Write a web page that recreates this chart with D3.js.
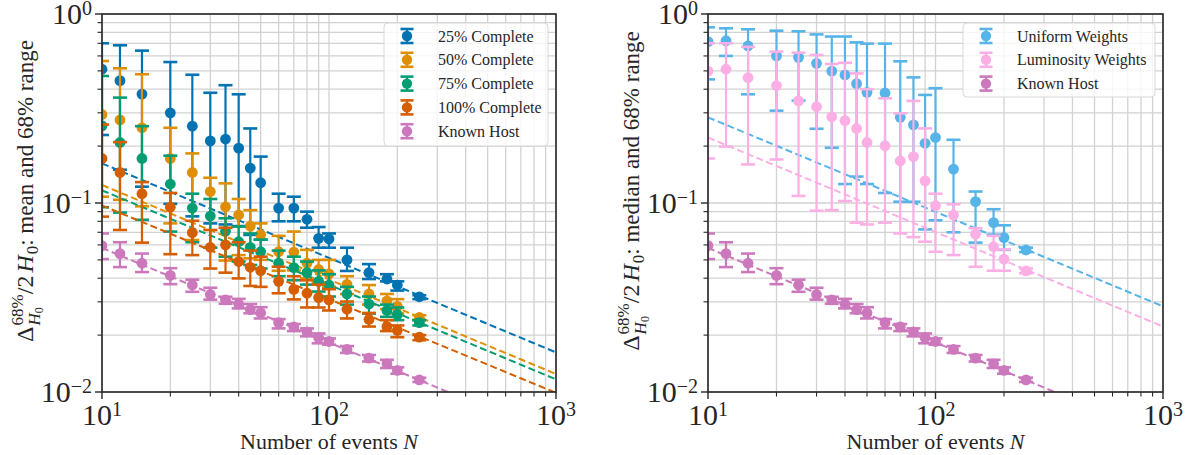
<!DOCTYPE html>
<html>
<head>
<meta charset="utf-8">
<script src="https://cdn.jsdelivr.net/npm/d3@7"></script>
<style>
  body { margin: 0; background: #fff; }
</style>
</head>
<body>
<div id="chart"></div>
<script>
// number of events on the x axis
const events = [10, 12, 15, 20, 25, 30, 35, 40, 45, 50, 60, 70, 80, 90, 100, 120, 150, 180, 200, 250];

// left panel: mean and 68% range
const c25Mid = [0.51, 0.444, 0.377, 0.30, 0.255, 0.213, 0.218, 0.195, 0.153, 0.128, 0.094, 0.094, 0.082, 0.065, 0.0645, 0.050, 0.0428, 0.0396, 0.0368, 0.0319];
const c25Lo  = [0.229, 0.15, 0.122, 0.099, 0.085, 0.078, 0.077, 0.0755, 0.0678, 0.064, 0.080, 0.080, 0.074, 0.058, 0.058, 0.0437, 0.0396, 0.0385, 0.0344, 0.031];
const c25Hi  = [0.70, 0.683, 0.64, 0.557, 0.477, 0.383, 0.42, 0.376, 0.248, 0.176, 0.112, 0.108, 0.090, 0.0746, 0.069, 0.058, 0.0475, 0.042, 0.0385, 0.0325];

const c50Mid = [0.294, 0.275, 0.25, 0.172, 0.145, 0.115, 0.0955, 0.0864, 0.0755, 0.068, 0.0552, 0.055, 0.048, 0.0445, 0.0422, 0.0371, 0.033, 0.0303, 0.0284, 0.0248];
const c50Lo  = [0.108, 0.104, 0.096, 0.078, 0.0637, 0.058, 0.0496, 0.053, 0.051, 0.05, 0.0438, 0.044, 0.040, 0.038, 0.036, 0.033, 0.029, 0.0275, 0.026, 0.024];
const c50Hi  = [0.564, 0.516, 0.48, 0.25, 0.183, 0.136, 0.127, 0.105, 0.0917, 0.078, 0.067, 0.0706, 0.0565, 0.05, 0.05, 0.041, 0.0368, 0.033, 0.031, 0.0255];

const c75Mid = [0.256, 0.209, 0.172, 0.126, 0.094, 0.0853, 0.0709, 0.0624, 0.0583, 0.0552, 0.048, 0.0455, 0.0428, 0.0385, 0.0368, 0.033, 0.0292, 0.027, 0.0257, 0.0233];
const c75Lo  = [0.095, 0.089, 0.0815, 0.0706, 0.062, 0.058, 0.052, 0.049, 0.047, 0.045, 0.041, 0.039, 0.037, 0.034, 0.032, 0.029, 0.026, 0.025, 0.024, 0.0225];
const c75Hi  = [0.47, 0.361, 0.255, 0.178, 0.112, 0.105, 0.083, 0.075, 0.069, 0.064, 0.056, 0.052, 0.049, 0.044, 0.042, 0.036, 0.032, 0.029, 0.028, 0.024];

const c100Mid = [0.172, 0.145, 0.112, 0.095, 0.0697, 0.0583, 0.06, 0.049, 0.0457, 0.0438, 0.0385, 0.0349, 0.0333, 0.0316, 0.0307, 0.0274, 0.0242, 0.0222, 0.0212, 0.0195];
const c100Lo  = [0.0847, 0.072, 0.0617, 0.0536, 0.053, 0.045, 0.0428, 0.0399, 0.0364, 0.036, 0.0333, 0.0309, 0.028, 0.028, 0.027, 0.0245, 0.0222, 0.021, 0.0195, 0.0188];
const c100Hi  = [0.26, 0.21, 0.129, 0.113, 0.0805, 0.072, 0.074, 0.062, 0.056, 0.052, 0.046, 0.041, 0.039, 0.037, 0.035, 0.0301, 0.0262, 0.024, 0.0225, 0.020];

// known host (same in both panels)
const hostMid = [0.0594, 0.054, 0.048, 0.0414, 0.0368, 0.0328, 0.0307, 0.0292, 0.0273, 0.0262, 0.0233, 0.0221, 0.0208, 0.0194, 0.0185, 0.0168, 0.0151, 0.0141, 0.013, 0.0116];
const hostLo  = [0.0505, 0.0458, 0.0431, 0.0372, 0.0339, 0.0308, 0.0293, 0.0277, 0.0261, 0.0245, 0.0217, 0.021, 0.0197, 0.0181, 0.0178, 0.0161, 0.0145, 0.0134, 0.0125, 0.0113];
const hostHi  = [0.069, 0.062, 0.054, 0.0452, 0.0393, 0.0356, 0.0319, 0.0311, 0.0292, 0.0281, 0.0243, 0.0229, 0.0217, 0.0204, 0.0192, 0.0175, 0.0157, 0.0148, 0.0135, 0.0119];

// right panel: median and 68% range
const uniMid = [0.714, 0.722, 0.677, 0.60, 0.59, 0.548, 0.499, 0.476, 0.428, 0.385, 0.382, 0.284, 0.259, 0.207, 0.222, 0.151, 0.1017, 0.0787, 0.0656, 0.0564];
const uniLo  = [0.451, 0.60, 0.376, 0.308, 0.348, 0.247, 0.196, 0.126, 0.138, 0.126, 0.113, 0.1016, 0.1016, 0.0725, 0.081, 0.070, 0.0617, 0.068, 0.0565, 0.055];
const uniHi  = [0.85, 0.84, 0.83, 0.816, 0.81, 0.78, 0.76, 0.76, 0.708, 0.697, 0.697, 0.562, 0.462, 0.373, 0.405, 0.216, 0.115, 0.0927, 0.0762, 0.058];

const lumMid = [0.499, 0.51, 0.46, 0.418, 0.347, 0.323, 0.286, 0.273, 0.248, 0.209, 0.201, 0.167, 0.176, 0.131, 0.0968, 0.0864, 0.0683, 0.0587, 0.0505, 0.0437];
const lumLo  = [0.172, 0.199, 0.16, 0.17, 0.109, 0.091, 0.0917, 0.1024, 0.0787, 0.077, 0.0787, 0.069, 0.066, 0.0624, 0.0552, 0.053, 0.046, 0.0438, 0.0438, 0.0425];
const lumHi  = [0.70, 0.70, 0.67, 0.632, 0.624, 0.607, 0.544, 0.552, 0.485, 0.40, 0.358, 0.298, 0.347, 0.248, 0.112, 0.0985, 0.0735, 0.067, 0.0568, 0.045];

// dashed N^-1/2 fits, values at N = 10 and N = 1000
const fitN = [10, 1000];
const fit25 = [0.162, 0.0162];
const fit50 = [0.1245, 0.01245];
const fit75 = [0.1167, 0.01167];
const fit100 = [0.097, 0.0099];
const fitHost = [0.0578, 0.00578];
const fitUni = [0.284, 0.0284];
const fitLum = [0.222, 0.0222];

const leftSeries = [
  {label: '25% Complete', color: '#0173b2', mid: c25Mid, lo: c25Lo, hi: c25Hi, fit: fit25},
  {label: '50% Complete', color: '#de8f05', mid: c50Mid, lo: c50Lo, hi: c50Hi, fit: fit50},
  {label: '75% Complete', color: '#029e73', mid: c75Mid, lo: c75Lo, hi: c75Hi, fit: fit75},
  {label: '100% Complete', color: '#d55e00', mid: c100Mid, lo: c100Lo, hi: c100Hi, fit: fit100},
  {label: 'Known Host', color: '#cc78bc', mid: hostMid, lo: hostLo, hi: hostHi, fit: fitHost}
];
const rightSeries = [
  {label: 'Uniform Weights', color: '#56b4e9', mid: uniMid, lo: uniLo, hi: uniHi, fit: fitUni},
  {label: 'Luminosity Weights', color: '#fbafe4', mid: lumMid, lo: lumLo, hi: lumHi, fit: fitLum},
  {label: 'Known Host', color: '#cc78bc', mid: hostMid, lo: hostLo, hi: hostHi, fit: fitHost}
];

const W = 1189, H = 455;
const FONT = '"Liberation Serif", "Times New Roman", serif';
const INK = '#262626';
const svg = d3.select('#chart').append('svg')
  .attr('width', W).attr('height', H)
  .attr('font-family', FONT).attr('fill', INK);

const plotTop = 14, plotBottom = 392;

// place text pieces one after another (for math-like labels)
function richText(g, pieces) {
  let cursor = 0, mark = 0, maxX = 0;
  pieces.forEach(p => {
    if (p.reset) cursor = mark;
    if (p.jump) cursor = maxX;
    if (p.mark) mark = cursor;
    const el = g.append('text')
      .attr('x', cursor)
      .attr('y', p.dy || 0)
      .attr('font-family', FONT).attr('fill', INK)
      .attr('font-size', p.s)
      .attr('font-style', p.it ? 'italic' : 'normal')
      .text(p.t);
    cursor += el.node().getComputedTextLength() + (p.gap || 0);
    maxX = Math.max(maxX, cursor);
  });
  return maxX;
}

function drawPanel(x0, x1, series, stat, legendBox) {
  const x = d3.scaleLog().domain([10, 1000]).range([x0, x1]);
  const y = d3.scaleLog().domain([0.01, 1]).range([plotBottom, plotTop]);
  const g = svg.append('g');
  const clipId = 'clip' + x0;

  g.append('clipPath').attr('id', clipId)
    .append('rect').attr('x', x0).attr('y', plotTop).attr('width', x1 - x0).attr('height', plotBottom - plotTop);

  const xt = x.ticks();
  const yt = y.ticks();
  const isMajor = v => Math.abs(Math.log10(v) - Math.round(Math.log10(v))) < 1e-6;

  // grid
  g.append('g').selectAll('line').data(xt).join('line')
    .attr('x1', d => x(d)).attr('x2', d => x(d)).attr('y1', plotTop).attr('y2', plotBottom)
    .attr('stroke', '#d2d2d2').attr('stroke-width', 1.3);
  g.append('g').selectAll('line').data(yt).join('line')
    .attr('y1', d => y(d)).attr('y2', d => y(d)).attr('x1', x0).attr('x2', x1)
    .attr('stroke', '#d2d2d2').attr('stroke-width', 1.3);

  const plot = g.append('g').attr('clip-path', `url(#${clipId})`);
  series.forEach(s => {
    const sg = plot.append('g');
    const pts = events.map((n, i) => ({n, mid: s.mid[i], lo: s.lo[i], hi: s.hi[i]}));
    sg.selectAll('.bar').data(pts).join('line').attr('class', 'bar')
      .attr('x1', d => x(d.n)).attr('x2', d => x(d.n))
      .attr('y1', d => y(d.lo)).attr('y2', d => y(d.hi))
      .attr('stroke', s.color).attr('stroke-width', 2.2);
    ['lo', 'hi'].forEach(k => {
      sg.selectAll('.cap' + k).data(pts).join('line').attr('class', 'cap' + k)
        .attr('x1', d => x(d.n) - 7).attr('x2', d => x(d.n) + 7)
        .attr('y1', d => y(d[k])).attr('y2', d => y(d[k]))
        .attr('stroke', s.color).attr('stroke-width', 2.6);
    });
    sg.selectAll('circle').data(pts).join('circle')
      .attr('cx', d => x(d.n)).attr('cy', d => y(d.mid)).attr('r', 5.4)
      .attr('fill', s.color);
    const fitPts = fitN.map((n, i) => [n, s.fit[i]]);
    sg.append('path')
      .attr('d', d3.line().x(d => x(d[0])).y(d => y(d[1]))(fitPts))
      .attr('fill', 'none').attr('stroke', s.color).attr('stroke-width', 2)
      .attr('stroke-dasharray', '7,3.5');
  });

  // spines
  g.append('rect').attr('x', x0).attr('y', plotTop).attr('width', x1 - x0).attr('height', plotBottom - plotTop)
    .attr('fill', 'none').attr('stroke', INK).attr('stroke-width', 1.6);

  // ticks
  g.append('g').selectAll('line').data(xt).join('line')
    .attr('x1', d => x(d)).attr('x2', d => x(d))
    .attr('y1', plotBottom).attr('y2', d => plotBottom + (isMajor(d) ? 7 : 4.5))
    .attr('stroke', INK).attr('stroke-width', d => isMajor(d) ? 1.4 : 1.1);
  g.append('g').selectAll('line').data(yt).join('line')
    .attr('y1', d => y(d)).attr('y2', d => y(d))
    .attr('x1', x0).attr('x2', d => x0 - (isMajor(d) ? 7 : 4.5))
    .attr('stroke', INK).attr('stroke-width', d => isMajor(d) ? 1.4 : 1.1);

  // tick labels 10^k
  const expLabel = (sel, v) => {
    const e = Math.round(Math.log10(v));
    sel.attr('font-family', FONT).attr('fill', INK);
    sel.append('tspan').attr('font-size', 30).text('10');
    sel.append('tspan').attr('font-size', 20).attr('dy', -9).text(e < 0 ? '\u2212' + (-e) : String(e));
  };
  xt.filter(isMajor).forEach(v => {
    const t = g.append('text').attr('x', x(v)).attr('y', 425).attr('text-anchor', 'middle');
    expLabel(t, v);
  });
  yt.filter(isMajor).forEach(v => {
    const t = g.append('text').attr('x', x0 - 10).attr('y', y(v) + 10).attr('text-anchor', 'end');
    expLabel(t, v);
  });

  // x label
  const xl = g.append('text').attr('x', (x0 + x1) / 2).attr('y', 449).attr('text-anchor', 'middle')
    .attr('font-family', FONT).attr('fill', INK).attr('font-size', 22);
  xl.append('tspan').text('Number of events ');
  xl.append('tspan').attr('font-style', 'italic').text('N');

  // y label
  const yg = g.append('g');
  const w = richText(yg, [
    {t: '\u0394', s: 24, gap: 1},
    {t: '68%', s: 17, dy: -10, mark: true},
    {t: 'H', s: 17, dy: 7, it: true, reset: true},
    {t: '0', s: 12, dy: 10},
    {t: '/2', s: 24, jump: true, gap: 3},
    {t: 'H', s: 24, it: true, gap: 1},
    {t: '0', s: 17, dy: 5},
    {t: ': ' + stat + ' and 68% range', s: 23}
  ]);
  yg.attr('transform', `translate(${x0 - 69},${(plotTop + plotBottom) / 2 - 12}) rotate(-90) translate(${-w / 2},0)`);

  // legend
  const lb = legendBox;
  const lg = g.append('g');
  lg.append('rect').attr('x', lb.x).attr('y', lb.y).attr('width', lb.w).attr('height', lb.h)
    .attr('rx', 4).attr('fill', '#fff').attr('fill-opacity', 0.8)
    .attr('stroke', '#d8d8d8').attr('stroke-width', 1);
  series.forEach((s, i) => {
    const cy = lb.y + 13 + i * 23.8;
    const mx = lb.x + 23;
    lg.append('line').attr('x1', mx).attr('x2', mx).attr('y1', cy - 7).attr('y2', cy + 7)
      .attr('stroke', s.color).attr('stroke-width', 2.2);
    [-7, 7].forEach(o => lg.append('line').attr('x1', mx - 6.5).attr('x2', mx + 6.5)
      .attr('y1', cy + o).attr('y2', cy + o).attr('stroke', s.color).attr('stroke-width', 2.6));
    lg.append('circle').attr('cx', mx).attr('cy', cy).attr('r', 5.2).attr('fill', s.color);
    lg.append('text').attr('x', lb.x + 54).attr('y', cy + 5.5)
      .attr('font-family', FONT).attr('fill', INK).attr('font-size', 16).text(s.label);
  });
}

drawPanel(102, 556, leftSeries, 'mean', {x: 384, y: 23, w: 164, h: 123});
drawPanel(708, 1163, rightSeries, 'median', {x: 963, y: 23, w: 192, h: 74});
</script>
</body>
</html>
